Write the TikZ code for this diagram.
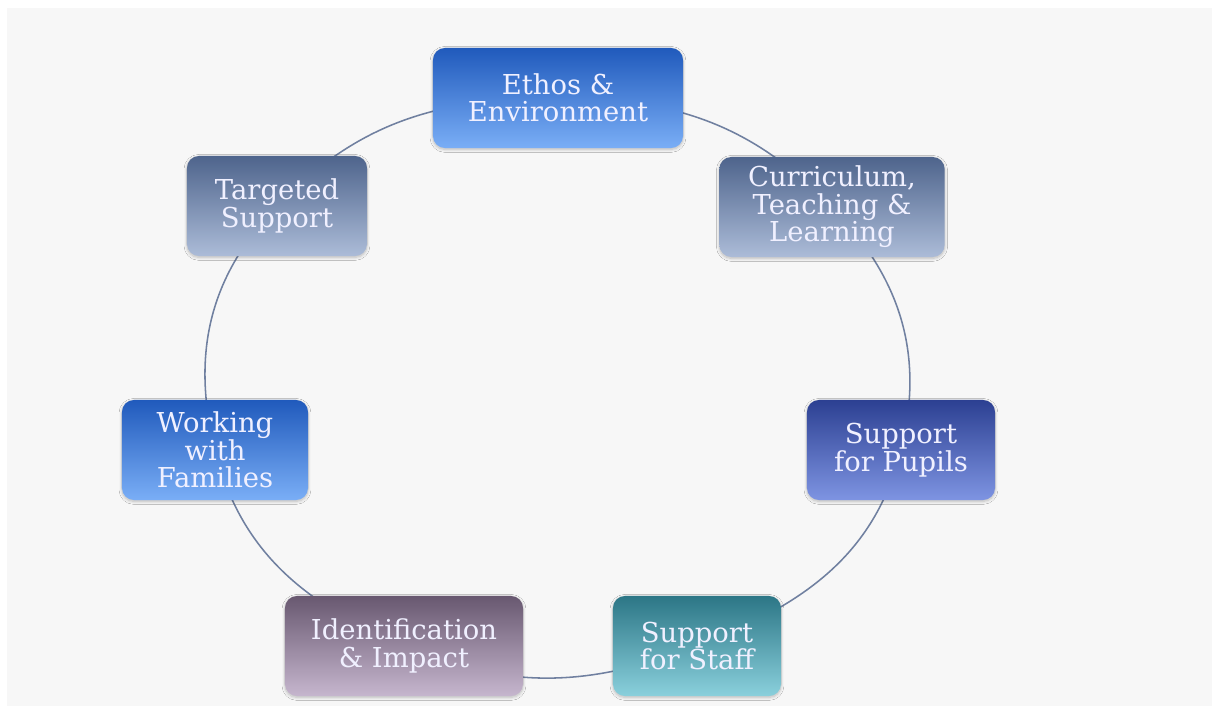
\documentclass[tikz,border=0pt]{standalone}
\usepackage{fontspec}
\setmainfont{DejaVu Serif}
\usetikzlibrary{shadows.blur,backgrounds}
\definecolor{panelc}{RGB}{247,247,247}
\definecolor{linkc}{RGB}{112,128,160}
\definecolor{blueT}{RGB}{32,90,188}
\definecolor{blueB}{RGB}{122,174,246}
\definecolor{slateT}{RGB}{78,100,140}
\definecolor{slateB}{RGB}{172,188,216}
\definecolor{navyT}{RGB}{44,64,146}
\definecolor{navyB}{RGB}{126,148,226}
\definecolor{mauveT}{RGB}{104,88,112}
\definecolor{mauveB}{RGB}{198,182,206}
\definecolor{tealT}{RGB}{44,118,134}
\definecolor{tealB}{RGB}{138,208,220}

\tikzset{
  box/.style={rounded corners=0.3cm, minimum height=2.5cm, inner sep=2pt, align=center,
    text=white!94!blue, font=\fontsize{19.5}{19.5}\selectfont,
    blur shadow={shadow xshift=0pt, shadow yshift=-1pt, shadow opacity=25, shadow blur steps=8}},
  bluebox/.style={box, top color=blueT, bottom color=blueB},
  slatebox/.style={box, top color=slateT, bottom color=slateB},
  navybox/.style={box, top color=navyT, bottom color=navyB},
  mauvebox/.style={box, top color=mauveT, bottom color=mauveB},
  tealbox/.style={box, top color=tealT, bottom color=tealB},
  link/.style={draw=linkc, line width=1.1pt}
}

\begin{document}
\begin{tikzpicture}[x=0.025cm,y=0.025cm]
\useasboundingbox (0,0) rectangle (1212,706);
\node[bluebox, minimum width=6.25cm] (ethos) at (558,608) {Ethos \&\\Environment};
\node[slatebox, minimum width=5.63cm] (curr) at (832,499) {Curriculum,\\Teaching \&\\Learning};
\node[slatebox, minimum width=4.5cm] (targ) at (277,500) {Targeted\\Support};
\node[bluebox, minimum width=4.65cm] (work) at (215,256) {Working\\with\\Families};
\node[navybox, minimum width=4.7cm] (pupils) at (901,256) {Support\\for Pupils};
\node[mauvebox, minimum width=5.95cm] (ident) at (404,60) {Identification\\\& Impact};
\node[tealbox, minimum width=4.2cm] (staff) at (697,60) {Support\\for Staff};
\begin{scope}[on background layer]
\fill[panelc] (7,0) rectangle (1212,698);
% ring, clockwise from the top
\draw[link] (ethos.center) to[out=0,in=134] (curr.center);
\draw[link] (curr.center) to[out=-46,in=76] (pupils.center);
\draw[link] (pupils.center) to[out=-104,in=21] (staff.center);
\draw[link] (staff.center) to[out=201,in=-23] (ident.center);
\draw[link] (ident.center) to[out=157,in=-76] (work.center);
\draw[link] (work.center) to[out=104,in=-134] (targ.center);
\draw[link] (targ.center) to[out=46,in=180] (ethos.center);
\end{scope}
\end{tikzpicture}
\end{document}
